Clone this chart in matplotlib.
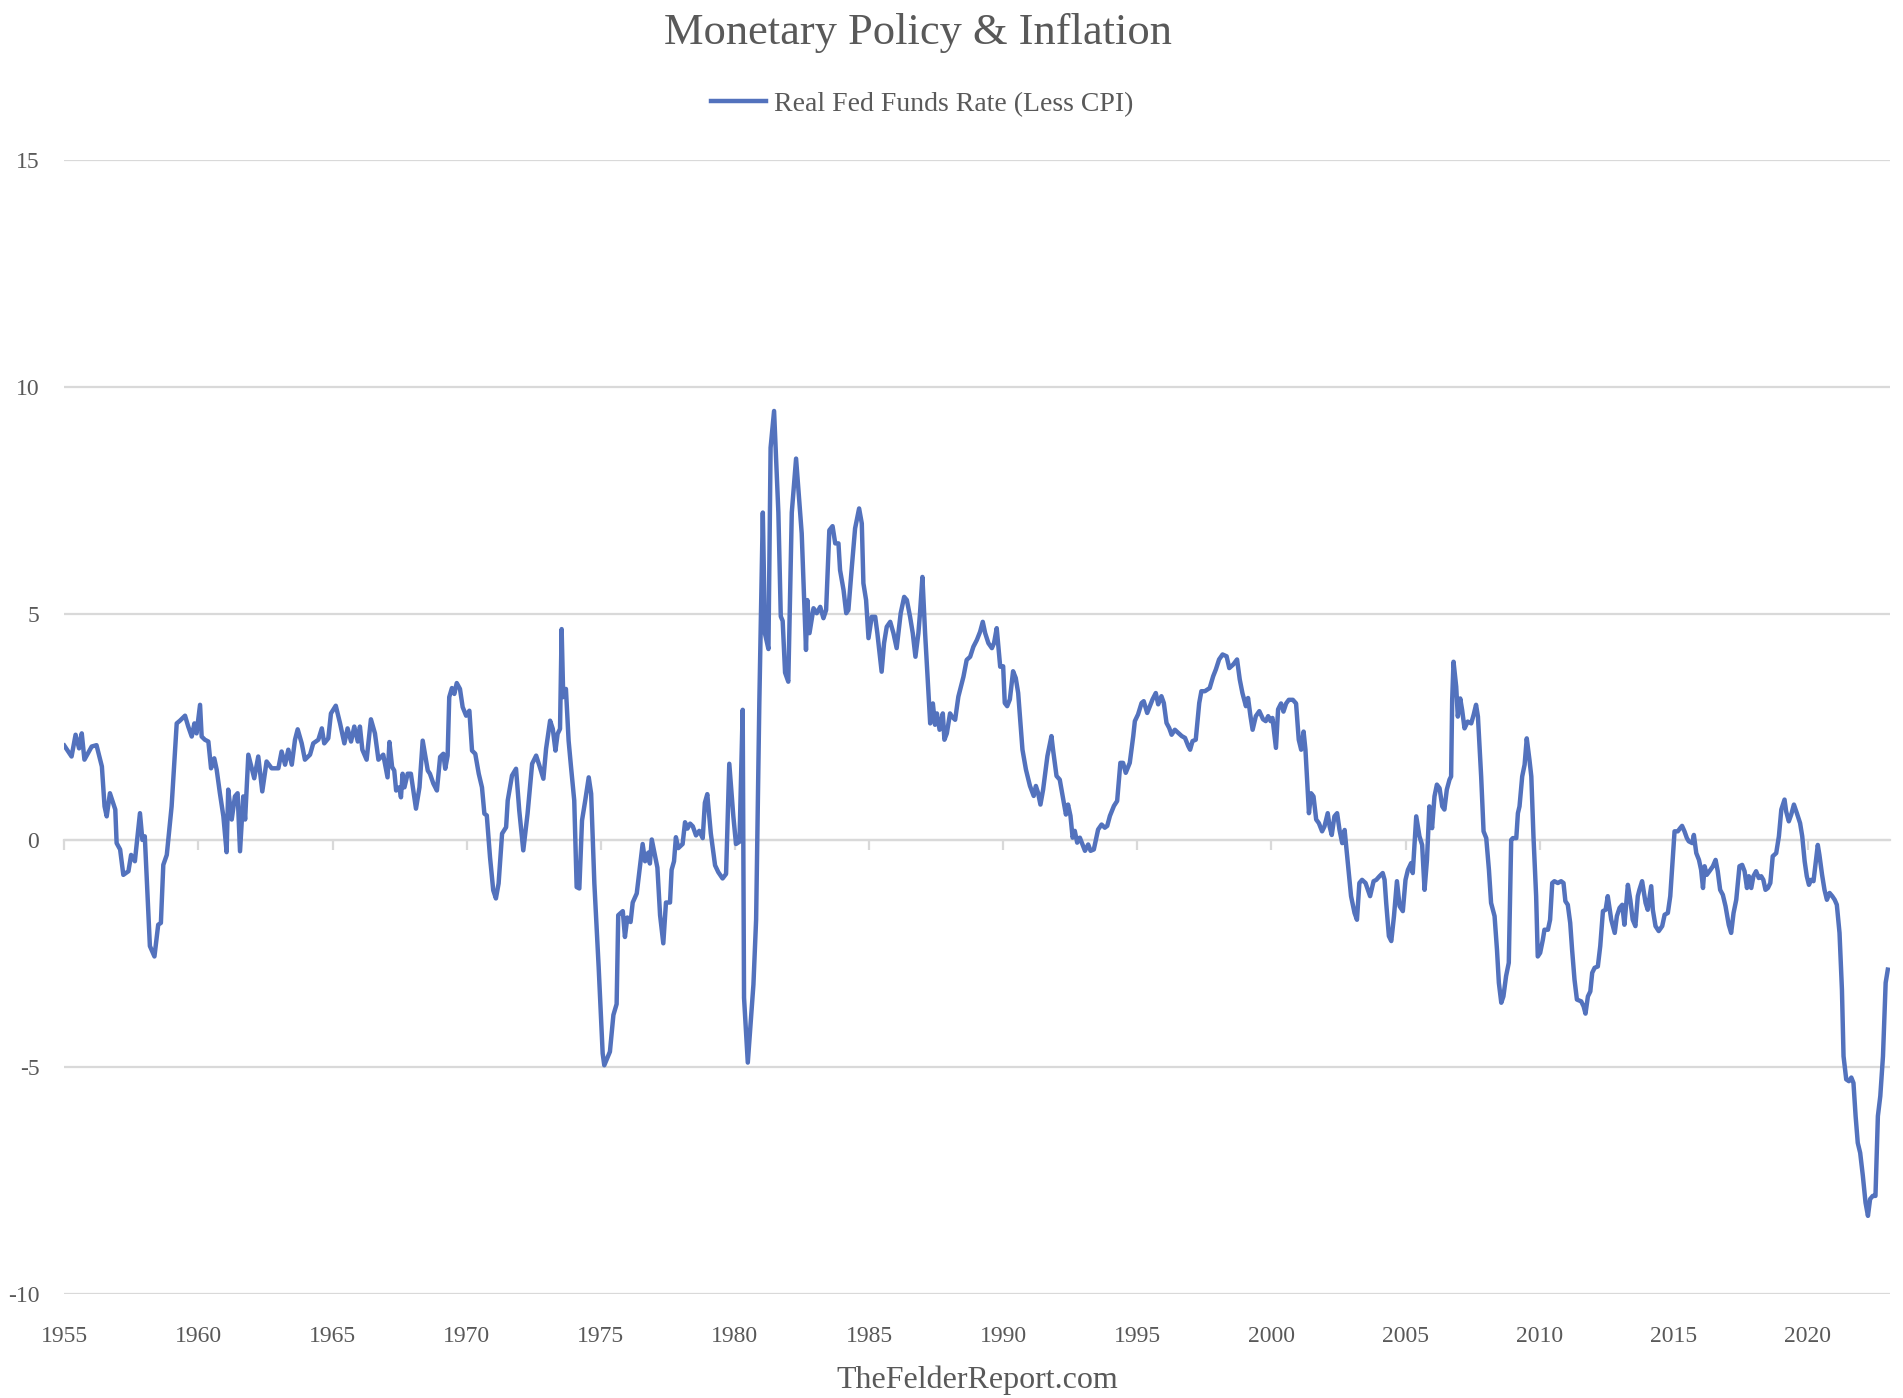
"""
Real Fed Funds Rate (less CPI), 1955-2022 -> out.png
"""

import matplotlib
matplotlib.use("Agg")
import matplotlib.pyplot as plt

TITLE       = "Monetary Policy & Inflation"
SERIES_NAME = "Real Fed Funds Rate (Less CPI)"
SOURCE      = "TheFelderReport.com"

year_ticks  = [1955, 1960, 1965, 1970, 1975, 1980, 1985, 1990, 1995, 2000, 2005, 2010, 2015, 2020]
value_ticks = [-10, -5, 0, 5, 10, 15]

# values, decimal years
years_55_66 = [
    1955.00, 1955.27, 1955.42, 1955.55, 1955.65, 1955.75, 1956.02, 1956.20, 1956.40, 1956.50,
    1956.58, 1956.70, 1956.90, 1956.95, 1957.08, 1957.20, 1957.39, 1957.49, 1957.63, 1957.82,
    1957.91, 1958.00, 1958.19, 1958.36, 1958.50, 1958.60, 1958.69, 1958.82, 1959.00, 1959.19,
    1959.31, 1959.50, 1959.62, 1959.75, 1959.85, 1959.93, 1960.06, 1960.12, 1960.24, 1960.37,
    1960.47, 1960.59, 1960.68, 1960.80, 1960.93, 1961.05, 1961.11, 1961.24, 1961.36, 1961.46,
    1961.55, 1961.67, 1961.74, 1961.86, 1962.08, 1962.23, 1962.38, 1962.54, 1962.73, 1962.98,
    1963.10, 1963.23, 1963.35, 1963.48, 1963.60, 1963.70, 1963.85, 1963.97, 1964.16, 1964.28,
    1964.47, 1964.60, 1964.69, 1964.84, 1964.94, 1965.12, 1965.28, 1965.44, 1965.56, 1965.69,
    1965.81, 1965.94, 1966.02, 1966.11, 1966.27, 1966.43, 1966.58, 1966.71, 1966.89,
]
rate_55_66 = [
    2.09, 1.85, 2.33, 2.03, 2.36, 1.78, 2.07, 2.10, 1.63, 0.75,
    0.53, 1.04, 0.68, -0.06, -0.20, -0.76, -0.68, -0.32, -0.46, 0.60,
    0.01, 0.09, -2.33, -2.56, -1.86, -1.82, -0.54, -0.32, 0.75, 2.58,
    2.64, 2.75, 2.51, 2.29, 2.58, 2.36, 2.99, 2.29, 2.22, 2.18,
    1.59, 1.81, 1.56, 1.04, 0.53, -0.26, 1.12, 0.46, 0.97, 1.04,
    -0.24, 0.97, 0.46, 1.89, 1.37, 1.85, 1.08, 1.74, 1.59, 1.59,
    1.96, 1.67, 2.00, 1.67, 2.22, 2.45, 2.14, 1.78, 1.89, 2.14,
    2.22, 2.47, 2.14, 2.25, 2.80, 2.97, 2.58, 2.14, 2.47, 2.18,
    2.51, 2.18, 2.51, 2.00, 1.78, 2.67, 2.36, 1.78, 1.89,
]

years_67_75 = [
    1967.05, 1967.12, 1967.22, 1967.30, 1967.37, 1967.49, 1967.55, 1967.61, 1967.68, 1967.80,
    1967.92, 1968.11, 1968.24, 1968.36, 1968.55, 1968.63, 1968.76, 1968.89, 1969.01, 1969.13,
    1969.20, 1969.29, 1969.35, 1969.45, 1969.54, 1969.63, 1969.75, 1969.85, 1969.98, 1970.10,
    1970.20, 1970.32, 1970.45, 1970.57, 1970.66, 1970.75, 1970.87, 1970.99, 1971.09, 1971.19,
    1971.32, 1971.47, 1971.53, 1971.69, 1971.84, 1971.96, 1972.11, 1972.27, 1972.44, 1972.59,
    1972.71, 1972.86, 1972.96, 1973.11, 1973.21, 1973.31, 1973.39, 1973.48, 1973.54, 1973.60,
    1973.70, 1973.80, 1973.89, 1974.01, 1974.10, 1974.20, 1974.30, 1974.42, 1974.55, 1974.64,
    1974.76, 1974.92, 1975.07, 1975.13,
]
rate_67_75 = [
    1.39, 2.17, 1.62, 1.54, 1.10, 1.17, 0.95, 1.47, 1.17, 1.47,
    1.47, 0.70, 1.17, 2.20, 1.54, 1.47, 1.25, 1.10, 1.84, 1.91,
    1.58, 1.87, 3.16, 3.36, 3.23, 3.47, 3.34, 2.94, 2.75, 2.86,
    1.98, 1.91, 1.47, 1.17, 0.59, 0.55, -0.37, -1.10, -1.28, -0.95,
    0.15, 0.29, 0.88, 1.43, 1.58, 0.66, -0.22, 0.59, 1.69, 1.87,
    1.65, 1.36, 2.02, 2.64, 2.46, 1.98, 2.35, 2.46, 4.66, 3.16,
    3.34, 2.20, 1.62, 0.88, -1.03, -1.06, 0.44, 0.88, 1.39, 1.03,
    -0.95, -2.79, -4.70, -4.96,
]

years_75_82 = [
    1975.34, 1975.47, 1975.59, 1975.65, 1975.82, 1975.90, 1975.99, 1976.11, 1976.19, 1976.34,
    1976.56, 1976.65, 1976.77, 1976.83, 1976.90, 1977.11, 1977.21, 1977.33, 1977.43, 1977.58,
    1977.64, 1977.73, 1977.80, 1977.89, 1978.05, 1978.14, 1978.23, 1978.33, 1978.43, 1978.55,
    1978.67, 1978.80, 1978.88, 1978.97, 1979.10, 1979.26, 1979.38, 1979.54, 1979.67, 1979.79,
    1979.94, 1980.04, 1980.17, 1980.29, 1980.34, 1980.48, 1980.69, 1980.79, 1980.91, 1981.04,
    1981.12, 1981.25, 1981.33, 1981.46, 1981.62, 1981.71, 1981.78, 1981.87, 1981.99, 1982.12,
]
rate_75_82 = [
    -4.66, -3.85, -3.61, -1.65, -1.56, -2.13, -1.70, -1.80, -1.37, -1.17,
    -0.08, -0.46, -0.27, -0.51, 0.02, -0.60, -1.65, -2.27, -1.37, -1.37,
    -0.65, -0.46, 0.07, -0.17, -0.08, 0.40, 0.26, 0.37, 0.31, 0.11,
    0.21, 0.05, 0.83, 1.02, 0.16, -0.55, -0.70, -0.84, -0.74, 1.69,
    0.54, -0.08, -0.03, 2.88, -3.47, -4.90, -3.18, -1.75, 3.03, 7.23,
    4.56, 4.22, 8.66, 9.47, 7.23, 4.94, 4.84, 3.70, 3.50, 7.23,
]

years_82_89 = [
    1982.28, 1982.49, 1982.65, 1982.70, 1982.78, 1982.93, 1983.05, 1983.18, 1983.30, 1983.40,
    1983.52, 1983.64, 1983.74, 1983.86, 1983.92, 1984.05, 1984.15, 1984.23, 1984.36, 1984.48,
    1984.63, 1984.73, 1984.79, 1984.89, 1984.98, 1985.10, 1985.23, 1985.31, 1985.41, 1985.47,
    1985.56, 1985.66, 1985.79, 1985.91, 1986.03, 1986.18, 1986.31, 1986.41, 1986.53, 1986.63,
    1986.73, 1986.84, 1986.90, 1986.99, 1987.09, 1987.18, 1987.28, 1987.38, 1987.46, 1987.53,
    1987.63, 1987.75, 1987.81, 1987.90, 1988.02, 1988.09, 1988.21, 1988.33, 1988.52, 1988.64,
    1988.77, 1988.89, 1989.02, 1989.14, 1989.24, 1989.33, 1989.45, 1989.58, 1989.66, 1989.76,
    1989.89,
]
rate_82_89 = [
    8.42, 6.77, 4.20, 5.30, 4.57, 5.12, 5.01, 5.15, 4.90, 5.08,
    6.84, 6.93, 6.55, 6.55, 5.96, 5.52, 5.01, 5.08, 6.04, 6.88,
    7.32, 6.99, 5.67, 5.30, 4.46, 4.93, 4.93, 4.57, 4.05, 3.72,
    4.35, 4.71, 4.82, 4.57, 4.24, 5.01, 5.37, 5.30, 4.93, 4.57,
    4.05, 4.57, 5.01, 5.81, 4.57, 3.61, 2.58, 3.02, 2.55, 2.80,
    2.44, 2.80, 2.22, 2.36, 2.80, 2.73, 2.66, 3.17, 3.61, 3.98,
    4.05, 4.27, 4.42, 4.60, 4.82, 4.57, 4.35, 4.24, 4.35, 4.68,
    3.83,
]

years_90_00 = [
    1990.00, 1990.06, 1990.15, 1990.25, 1990.37, 1990.47, 1990.56, 1990.72, 1990.85, 1991.00,
    1991.14, 1991.22, 1991.30, 1991.39, 1991.49, 1991.65, 1991.80, 1991.86, 1991.99, 1992.11,
    1992.24, 1992.34, 1992.42, 1992.51, 1992.59, 1992.67, 1992.76, 1992.86, 1992.96, 1993.05,
    1993.17, 1993.26, 1993.38, 1993.54, 1993.67, 1993.79, 1993.88, 1993.98, 1994.13, 1994.25,
    1994.37, 1994.47, 1994.57, 1994.72, 1994.85, 1994.91, 1995.03, 1995.16, 1995.24, 1995.37,
    1995.47, 1995.57, 1995.69, 1995.78, 1995.90, 1995.99, 1996.09, 1996.19, 1996.28, 1996.40,
    1996.53, 1996.66, 1996.78, 1996.90, 1996.97, 1997.06, 1997.18, 1997.31, 1997.39, 1997.52,
    1997.70, 1997.83, 1997.93, 1998.05, 1998.18, 1998.33, 1998.43, 1998.58, 1998.72, 1998.82,
    1998.92, 1999.05, 1999.13, 1999.22, 1999.30, 1999.42, 1999.55, 1999.69, 1999.79, 1999.88,
    1999.97, 2000.04, 2000.17, 2000.25,
]
rate_90_00 = [
    3.84, 3.03, 2.96, 3.11, 3.73, 3.58, 3.25, 2.00, 1.56, 1.20,
    0.98, 1.20, 1.05, 0.79, 1.12, 1.86, 2.30, 2.00, 1.42, 1.34,
    0.90, 0.57, 0.79, 0.54, 0.06, 0.21, -0.05, 0.06, -0.09, -0.23,
    -0.09, -0.23, -0.20, 0.24, 0.35, 0.28, 0.32, 0.54, 0.76, 0.87,
    1.71, 1.71, 1.49, 1.71, 2.30, 2.63, 2.78, 3.03, 3.07, 2.81,
    2.96, 3.11, 3.25, 3.00, 3.18, 3.03, 2.59, 2.48, 2.33, 2.44,
    2.37, 2.30, 2.26, 2.08, 2.00, 2.19, 2.22, 3.03, 3.29, 3.29,
    3.36, 3.62, 3.77, 3.99, 4.10, 4.06, 3.80, 3.88, 3.99, 3.55,
    3.25, 2.96, 3.14, 2.74, 2.44, 2.74, 2.85, 2.67, 2.63, 2.74,
    2.63, 2.70, 2.04, 2.89,
]

years_00_10 = [
    2000.36, 2000.45, 2000.55, 2000.65, 2000.80, 2000.92, 2001.02, 2001.11, 2001.20, 2001.27,
    2001.40, 2001.48, 2001.57, 2001.67, 2001.77, 2001.89, 2001.98, 2002.10, 2002.17, 2002.25,
    2002.35, 2002.45, 2002.54, 2002.64, 2002.73, 2002.85, 2002.97, 2003.10, 2003.19, 2003.28,
    2003.38, 2003.51, 2003.60, 2003.68, 2003.81, 2003.91, 2004.03, 2004.15, 2004.22, 2004.28,
    2004.38, 2004.47, 2004.57, 2004.68, 2004.78, 2004.90, 2005.00, 2005.09, 2005.21, 2005.27,
    2005.40, 2005.52, 2005.62, 2005.71, 2005.80, 2005.89, 2005.99, 2006.08, 2006.17, 2006.27,
    2006.37, 2006.45, 2006.54, 2006.64, 2006.70, 2006.74, 2006.79, 2006.89, 2006.95, 2007.04,
    2007.11, 2007.20, 2007.32, 2007.45, 2007.54, 2007.63, 2007.70, 2007.82, 2007.91, 2008.01,
    2008.11, 2008.19, 2008.32, 2008.41, 2008.48, 2008.57, 2008.65, 2008.75, 2008.85, 2008.94,
    2009.00, 2009.13, 2009.19, 2009.25, 2009.35, 2009.44, 2009.52, 2009.62, 2009.69, 2009.77,
    2009.87, 2009.93, 2010.02, 2010.12, 2010.18, 2010.31, 2010.39,
]
rate_00_10 = [
    3.02, 2.84, 3.02, 3.10, 3.10, 3.02, 2.22, 2.00, 2.40, 2.00,
    0.60, 1.04, 0.97, 0.46, 0.38, 0.20, 0.31, 0.60, 0.31, 0.12,
    0.53, 0.60, 0.23, -0.06, 0.23, -0.50, -1.23, -1.60, -1.75, -0.94,
    -0.87, -0.94, -1.09, -1.23, -0.90, -0.87, -0.79, -0.72, -0.87, -1.38,
    -2.11, -2.22, -1.67, -0.90, -1.45, -1.56, -0.87, -0.65, -0.50, -0.72,
    0.53, 0.09, -0.10, -1.09, -0.43, 0.75, 0.27, 0.97, 1.23, 1.15,
    0.75, 0.68, 1.12, 1.34, 1.41, 3.10, 3.94, 3.39, 2.73, 3.13,
    2.88, 2.47, 2.62, 2.58, 2.77, 2.99, 2.73, 1.41, 0.20, 0.05,
    -0.65, -1.38, -1.67, -2.41, -3.14, -3.58, -3.44, -2.99, -2.70, 0.01,
    0.05, 0.05, 0.60, 0.75, 1.41, 1.67, 2.25, 1.78, 1.41, 0.09,
    -1.23, -2.56, -2.48, -2.19, -1.97, -1.97, -1.75,
]

years_10_22 = [
    2010.47, 2010.55, 2010.68, 2010.80, 2010.89, 2010.96, 2011.05, 2011.14, 2011.21, 2011.30,
    2011.39, 2011.55, 2011.64, 2011.71, 2011.80, 2011.89, 2011.96, 2012.05, 2012.17, 2012.26,
    2012.36, 2012.46, 2012.54, 2012.67, 2012.80, 2012.88, 2012.98, 2013.08, 2013.16, 2013.29,
    2013.38, 2013.47, 2013.57, 2013.66, 2013.72, 2013.82, 2013.95, 2014.03, 2014.16, 2014.22,
    2014.32, 2014.44, 2014.57, 2014.66, 2014.78, 2014.87, 2015.03, 2015.15, 2015.24, 2015.31,
    2015.40, 2015.49, 2015.56, 2015.69, 2015.75, 2015.84, 2015.94, 2016.02, 2016.09, 2016.15,
    2016.23, 2016.33, 2016.46, 2016.56, 2016.64, 2016.73, 2016.83, 2016.93, 2017.05, 2017.14,
    2017.23, 2017.33, 2017.45, 2017.55, 2017.64, 2017.73, 2017.80, 2017.89, 2017.97, 2018.07,
    2018.17, 2018.26, 2018.34, 2018.42, 2018.51, 2018.60, 2018.69, 2018.82, 2018.92, 2019.01,
    2019.13, 2019.19, 2019.29, 2019.38, 2019.48, 2019.59, 2019.71, 2019.79, 2019.88, 2019.96,
    2020.04, 2020.12, 2020.21, 2020.29, 2020.37, 2020.43, 2020.53, 2020.62, 2020.71, 2020.81,
    2020.91, 2021.00, 2021.08, 2021.18, 2021.27, 2021.33, 2021.43, 2021.53, 2021.62, 2021.70,
    2021.78, 2021.86, 2021.95, 2022.05, 2022.15, 2022.24, 2022.32, 2022.42, 2022.52, 2022.61,
    2022.70, 2022.80, 2022.90, 2022.98,
]
rate_10_22 = [
    -0.94, -0.90, -0.94, -0.90, -0.94, -1.34, -1.42, -1.82, -2.41, -3.07,
    -3.51, -3.55, -3.66, -3.82, -3.44, -3.33, -2.92, -2.81, -2.78, -2.33,
    -1.56, -1.53, -1.23, -1.75, -2.04, -1.67, -1.49, -1.42, -1.86, -0.98,
    -1.31, -1.75, -1.89, -1.23, -1.09, -0.90, -1.38, -1.53, -1.01, -1.53,
    -1.89, -2.00, -1.89, -1.64, -1.60, -1.23, 0.20, 0.20, 0.27, 0.32,
    0.20, 0.05, -0.02, -0.06, 0.12, -0.28, -0.43, -0.65, -1.05, -0.57,
    -0.76, -0.68, -0.57, -0.43, -0.68, -1.09, -1.20, -1.45, -1.86, -2.04,
    -1.60, -1.31, -0.57, -0.54, -0.68, -1.05, -0.79, -1.05, -0.79, -0.68,
    -0.83, -0.79, -0.87, -1.09, -1.05, -0.94, -0.35, -0.28, 0.09, 0.68,
    0.90, 0.64, 0.42, 0.57, 0.79, 0.60, 0.38, 0.09, -0.46, -0.79,
    -0.98, -0.87, -0.90, -0.50, -0.10, -0.32, -0.76, -1.09, -1.31, -1.16,
    -1.23, -1.31, -1.42, -2.04, -3.29, -4.76, -5.27, -5.31, -5.23, -5.35,
    -6.08, -6.67, -6.89, -7.40, -7.99, -8.28, -7.91, -7.84, -7.84, -6.08,
    -5.64, -4.76, -3.14, -2.85,
]

years = years_55_66 + years_67_75 + years_75_82 + years_82_89 + years_90_00 + years_00_10 + years_10_22
rate  = rate_55_66 + rate_67_75 + rate_75_82 + rate_82_89 + rate_90_00 + rate_00_10 + rate_10_22

LINE_COLOR = "#5372BD"
GRID_COLOR = "#D9D9D9"
TEXT_COLOR = "#595959"
FONT       = ["Liberation Serif", "DejaVu Serif"]

plt.rcParams["font.family"] = FONT
plt.rcParams["axes.unicode_minus"] = False

fig = plt.figure(figsize=(19.03, 13.98), dpi=100, facecolor="white")
ax = fig.add_axes([0.0338, 0.0745, 0.9592, 0.8109])

ax.plot(years, rate, color=LINE_COLOR, linewidth=3.2, solid_joinstyle="round",
        label=SERIES_NAME, zorder=3)

ax.set_xlim(1955, 2023.05)
ax.set_ylim(-10, 15)
ax.set_yticks(value_ticks)
ax.yaxis.grid(True, color=GRID_COLOR, linewidth=1.6)
ax.set_axisbelow(True)
for side in ("top", "right", "left"):
    ax.spines[side].set_visible(False)

# horizontal axis line sits at zero, labels stay at the bottom
ax.spines["bottom"].set_position(("data", 0))
ax.spines["bottom"].set_color(GRID_COLOR)
ax.spines["bottom"].set_linewidth(1.6)
ax.set_xticks(year_ticks)
ax.tick_params(axis="x", direction="out", length=7, width=1.6,
               color=GRID_COLOR, labelbottom=False)
ax.tick_params(axis="y", length=0, pad=18, labelsize=17, labelcolor=TEXT_COLOR)
for lbl in ax.get_yticklabels():
    lbl.set_verticalalignment("center_baseline")

sec = ax.secondary_xaxis("bottom")
sec.set_xticks(year_ticks)
sec.tick_params(length=0, pad=23, labelsize=17, labelcolor=TEXT_COLOR)
sec.spines["bottom"].set_visible(False)

fig.text(0.4822, 0.9764, TITLE, ha="center", va="center",
         fontsize=32, color=TEXT_COLOR)
ax.legend(loc="center", bbox_to_anchor=(0.4846, 0.9253), bbox_transform=fig.transFigure,
          frameon=False, fontsize=20, handlelength=2.0, handletextpad=0.3,
          labelcolor=TEXT_COLOR)
fig.text(0.5134, 0.0129, SOURCE, ha="center", va="center",
         fontsize=23, color=TEXT_COLOR)

fig.savefig("out.png", dpi=100, facecolor="white")
plt.close(fig)
